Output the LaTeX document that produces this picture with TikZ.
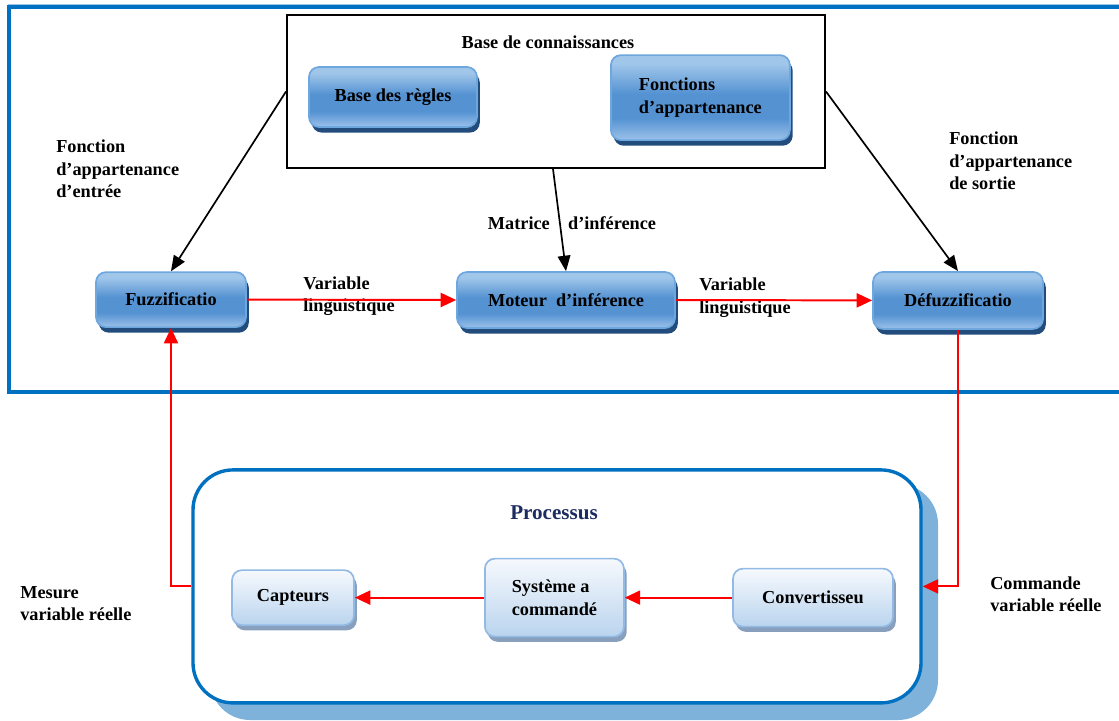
\documentclass[tikz,border=0pt]{standalone}
\usepackage{fontspec}
\setmainfont{Liberation Serif}
\usetikzlibrary{arrows.meta,shadows}
\definecolor{frameblue}{RGB}{0,112,192}
\definecolor{shadeblue}{RGB}{127,178,219}
\definecolor{navy}{RGB}{28,44,96}
\definecolor{boxtop}{RGB}{160,198,234}
\definecolor{boxmid}{RGB}{84,146,210}
\definecolor{boxbot}{RGB}{150,190,232}
\definecolor{boxedge}{RGB}{110,166,222}
\definecolor{boxshadow}{RGB}{34,76,124}
\definecolor{paletop}{RGB}{246,249,253}
\definecolor{palebot}{RGB}{186,212,238}
\definecolor{paleedge}{RGB}{146,186,228}
\definecolor{paleshadow}{RGB}{136,160,190}
\pgfdeclareverticalshading{bluegrad}{100bp}{color(0bp)=(boxbot); color(26bp)=(boxbot); color(38bp)=(boxmid); color(52bp)=(boxmid); color(70bp)=(boxtop); color(100bp)=(boxtop)}
\begin{document}
\begin{tikzpicture}[
		font = \fontsize{13}{16}\selectfont\bfseries,
		bluebox/.style = {draw = boxedge, line width = 1.2pt, rounded corners = 0.25cm, shading = bluegrad, inner sep = 0pt, drop shadow = {shadow xshift = 0.07cm, shadow yshift = -0.14cm, fill = boxshadow, opacity = 1}},
		palebox/.style = {draw = paleedge, line width = 1.2pt, rounded corners = 0.25cm, top color = paletop, bottom color = palebot, inner sep = 0pt, drop shadow = {shadow xshift = 0.07cm, shadow yshift = -0.13cm, fill = paleshadow, opacity = 1}},
		txt/.style = {inner sep = 0pt, align = left, anchor = west},
		blackarrow/.style = {line width = 1.2pt, -{Triangle[length = 11pt, width = 9pt]}},
		redarrow/.style = {red, line width = 1.4pt, -{Triangle[length = 11pt, width = 10pt]}}
	]
		\clip (0,0) rectangle (27.975,-18);
		\draw [frameblue!40, line width = 1pt] (0.2,-0.12) -- (28.5,-0.12);
		\draw [frameblue, line width = 2.4pt] (0.225,-0.175) rectangle (28.5,-9.8);
		\node [draw, line width = 1.4pt, minimum width = 13.45cm, minimum height = 3.825cm, inner sep = 0pt](kb) at (13.9,-2.2875) {};
		\node [inner sep = 0pt](kbtitle) at (13.7,-1.05) {Base de connaissances};
		\node [bluebox, minimum width = 4.2cm, minimum height = 1.5cm](regles) at (9.825,-2.425) {Base des règles};
		\node [bluebox, minimum width = 4.475cm, minimum height = 2.125cm, align = left](fonctions) at (17.51,-2.44) {Fonctions\\d’appartenance};
		\node [bluebox, minimum width = 3.75cm, minimum height = 1.375cm](fuzz) at (4.275,-7.49) {Fuzzificatio};
		\node [bluebox, minimum width = 5.45cm, minimum height = 1.4cm](moteur) at (14.15,-7.5) {Moteur\ \ d’inférence};
		\node [bluebox, minimum width = 4.25cm, minimum height = 1.425cm](defuzz) at (23.95,-7.51) {Défuzzificatio};
		\node [txt](entree) at (1.4,-4.225) {Fonction\\d’appartenance\\d’entrée};
		\node [txt](sortie) at (23.725,-4.025) {Fonction\\d’appartenance\\de sortie};
		\node [txt](var1) at (7.575,-7.4) {Variable\\linguistique};
		\node [txt](var2) at (17.475,-7.44) {Variable\\linguistique};
		\node [inner sep = 0pt](matrice) at (14.3,-5.575) {Matrice\ \ \ \ d’inférence};
		\draw [blackarrow] (kb.west) -- (fuzz.north);
		\draw [blackarrow] (kb.south) ++(-0.075,0) -- (moteur.north);
		\draw [blackarrow] (kb.east) -- (defuzz.north);
		\draw [redarrow] (fuzz.east) -- (moteur.west);
		\draw [redarrow] (moteur.east) -- (defuzz.west);
		\fill [shadeblue, rounded corners = 1cm] (5.25,-12.1) rectangle (23.45,-18.0);
		\node [draw = frameblue, line width = 2.4pt, fill = white, rounded corners = 1cm, minimum width = 18.2cm, minimum height = 5.825cm, inner sep = 0pt](proc) at (13.925,-14.66) {};
		\node [inner sep = 0pt, text = navy, font = \fontsize{15}{18}\selectfont\bfseries](proctitle) at (13.85,-12.825) {Processus};
		\node [palebox, minimum width = 3.05cm, minimum height = 1.375cm](capteurs) at (7.325,-14.94) {Capteurs};
		\node [palebox, minimum width = 3.475cm, minimum height = 1.95cm, align = left](systeme) at (13.86,-14.94) {Système a\\commandé};
		\node [palebox, minimum width = 4cm, minimum height = 1.45cm](conv) at (20.325,-14.94) {Convertisseu};
		\draw [redarrow] (systeme.west) -- (capteurs.east);
		\draw [redarrow] (conv.west) -- (systeme.east);
		\draw [redarrow] (defuzz.south) |- (proc.east);
		\draw [redarrow] (proc.west) -| (fuzz.south);
		\node [txt](mesure) at (0.5,-15.09) {Mesure\\variable réelle};
		\node [txt](commande) at (24.75,-14.85) {Commande\\variable réelle};
\end{tikzpicture}
\end{document}
